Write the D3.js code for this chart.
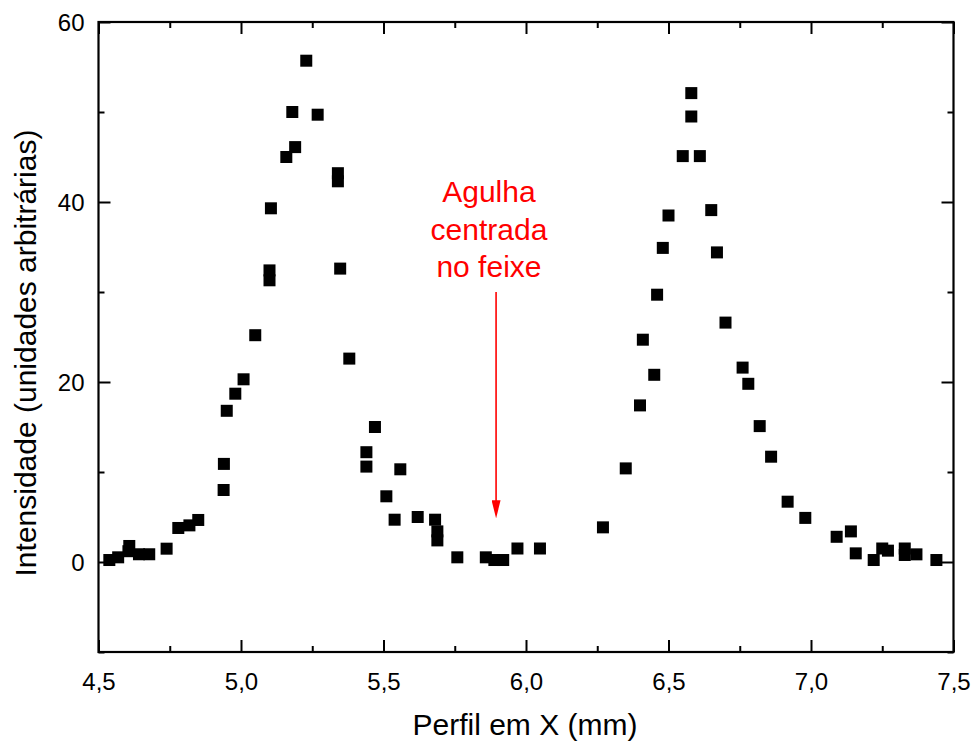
<!DOCTYPE html>
<html><head><meta charset="utf-8">
<script src="https://cdn.jsdelivr.net/npm/d3@7"></script>
<style>body{margin:0;background:#fff}svg{display:block}text{font-family:"Liberation Sans",Arial,sans-serif}</style>
</head><body><svg id="c" width="975" height="744"></svg>
<script>
const xPos = [4.538,4.569,4.605,4.608,4.642,4.678,4.739,4.78,4.819,4.85,4.939,4.94,4.95,4.98,5.009,5.05,5.1,5.1,5.105,5.159,5.18,5.19,5.229,5.269,5.34,5.34,5.348,5.38,5.44,5.44,5.47,5.51,5.539,5.559,5.62,5.681,5.689,5.689,5.759,5.859,5.889,5.92,5.97,6.049,
  6.27,6.35,6.4,6.41,6.45,6.46,6.48,6.5,6.55,6.58,6.58,6.61,6.65,6.67,6.7,6.76,6.78,6.82,6.86,6.918,6.98,7.09,7.14,7.157,7.22,7.25,7.27,7.329,7.329,7.37,7.44];
const intensity = [0.22,0.52,1.2,1.78,0.86,0.86,1.48,3.78,4.07,4.67,8.0,10.9,16.8,18.7,20.3,25.2,31.3,32.4,39.3,45.0,50.0,46.1,55.7,49.7,43.2,42.3,32.6,22.6,12.2,10.6,15.0,7.3,4.7,10.3,5.0,4.7,3.4,2.4,0.52,0.52,0.22,0.22,1.5,1.5,
  3.85,10.4,17.4,24.7,20.8,29.7,34.9,38.5,45.1,52.1,49.5,45.1,39.1,34.4,26.6,21.6,19.8,15.1,11.7,6.7,4.9,2.8,3.4,0.96,0.22,1.5,1.26,1.5,0.78,0.85,0.22];
const xTicks = [4.5,5.0,5.5,6.0,6.5,7.0,7.5];
const xMinor = [4.75,5.25,5.75,6.25,6.75,7.25];
const yTicks = [0,20,40,60];
const yMinor = [-10,10,30,50];
const noteLines = ["Agulha","centrada","no feixe"];
const noteX = 5.87, noteY = [40.0,35.8,31.7];
const arrowX = 5.895, arrowFrom = 30.0, arrowTo = 4.85;
const xTitle = "Perfil em X (mm)";
const yTitle = "Intensidade (unidades arbitrárias)";

const svg = d3.select("#c");
const L=98.5,R=953.5,T=22,B=652;
const x = d3.scaleLinear().domain([4.5,7.5]).range([L,R]);
const y = d3.scaleLinear().domain([-10,60]).range([B,T]);
const fmt = d => d3.format(".1f")(d).replace(".",",");

function ax(gen, tr, vals, size, labels){
  const g = svg.append("g").attr("transform",tr).call(gen.tickValues(vals).tickSize(size).tickPadding(6).tickFormat(labels?labels:""));
  g.select(".domain").remove();
  g.selectAll(".tick line").attr("stroke","#000").attr("stroke-width",2);
  return g;
}
const gb = ax(d3.axisBottom(x), `translate(0,${B})`, xTicks, -12, fmt);
gb.selectAll("text").attr("font-size",24).attr("fill","#000").attr("y",21).attr("dy","0.71em");
ax(d3.axisBottom(x), `translate(0,${B})`, xMinor, -6);
ax(d3.axisTop(x), `translate(0,${T})`, xTicks, -12);
ax(d3.axisTop(x), `translate(0,${T})`, xMinor, -6);
const gl = ax(d3.axisLeft(y), `translate(${L},0)`, yTicks, -12, d3.format("d"));
gl.selectAll("text").attr("font-size",24).attr("fill","#000").attr("x",-14).attr("dy","0.35em");
ax(d3.axisLeft(y), `translate(${L},0)`, yMinor, -6);
ax(d3.axisRight(y), `translate(${R},0)`, yTicks, -12);
ax(d3.axisRight(y), `translate(${R},0)`, yMinor, -6);
svg.append("rect").attr("x",L).attr("y",T).attr("width",R-L).attr("height",B-T)
  .attr("fill","none").attr("stroke","#000").attr("stroke-width",2.2);

const data = xPos.map((v,i)=>({x:v,y:intensity[i]}));
svg.append("g").selectAll("rect").data(data).join("rect")
  .attr("x",d=>x(d.x)-6).attr("y",d=>y(d.y)-6).attr("width",12).attr("height",12).attr("fill","#000");

svg.append("g").selectAll("text").data(noteLines).join("text")
  .attr("x",x(noteX)).attr("y",(d,i)=>y(noteY[i])).attr("text-anchor","middle")
  .attr("font-size",30).attr("fill","#ff0000").text(d=>d);
svg.append("defs").append("marker").attr("id","ah").attr("viewBox","0 0 18 9").attr("refX",18).attr("refY",4.5)
  .attr("markerWidth",18).attr("markerHeight",9).attr("markerUnits","userSpaceOnUse").attr("orient","auto")
  .append("path").attr("d","M0,0 L18,4.5 L0,9 Z").attr("fill","#ff0000");
svg.append("line").attr("x1",x(arrowX)).attr("x2",x(arrowX)).attr("y1",y(arrowFrom)).attr("y2",y(arrowTo)-8)
  .attr("stroke","#ff0000").attr("stroke-width",1.6);
svg.append("line").attr("x1",x(arrowX)).attr("x2",x(arrowX)).attr("y1",y(arrowTo)-10).attr("y2",y(arrowTo))
  .attr("stroke","none").attr("marker-end","url(#ah)");

svg.append("text").attr("x",525).attr("y",735).attr("text-anchor","middle").attr("font-size",30).attr("fill","#000").text(xTitle);
svg.append("text").attr("transform",`translate(36,353) rotate(-90)`).attr("text-anchor","middle").attr("font-size",30).attr("fill","#000").text(yTitle);
</script></body></html>
